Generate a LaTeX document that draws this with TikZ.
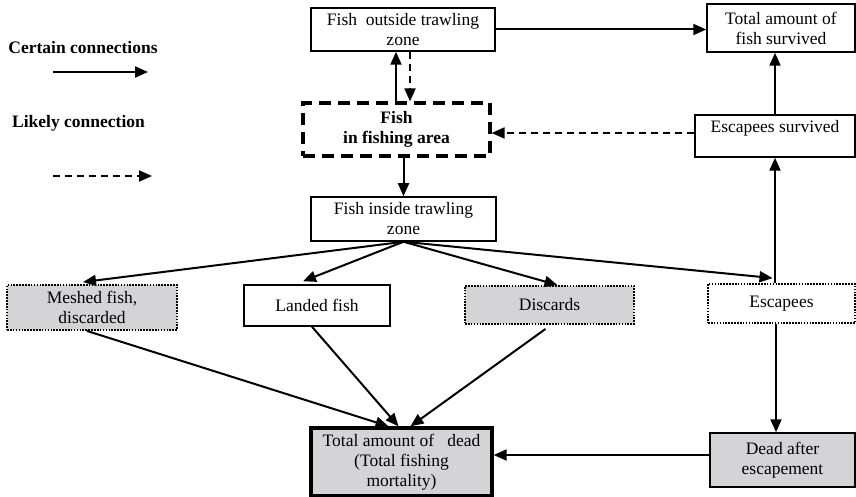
\documentclass[tikz,border=0pt]{standalone}
\usepackage{fontspec}
\setmainfont{Liberation Serif}
\usetikzlibrary{arrows.meta,calc}
\definecolor{boxgray}{RGB}{212,212,214}
\begin{document}
\begin{tikzpicture}[x=1pt,y=-1pt,
  font=\fontsize{17.5}{20}\selectfont,
  box/.style={draw,line width=1.5pt,align=center,inner sep=0pt,
              minimum width=#1},
  grayfill/.style={fill=boxgray},
  dotbox/.style={line width=1.9pt,dash pattern=on 1.6pt off 1.3pt},
  arr/.style={line width=2pt,-{Triangle[length=13pt,width=11pt]}},
  likely/.style={arr,dash pattern=on 7pt off 5pt},
  legendtext/.style={font=\fontsize{17.5}{20}\selectfont\bfseries,inner sep=0pt}]
\useasboundingbox (0,0) rectangle (856,497);

% legend
\node[legendtext] (certain) at (83,48) {Certain connections};
\node[legendtext] (likelytxt) at (78.5,123) {Likely connection};
\coordinate (c1) at (53,72);
\coordinate (c2) at (148,72);
\coordinate (k1) at (53,176);
\coordinate (k2) at (152,176);
\draw[arr] (c1) -- (c2);
\draw[likely] (k1) -- (k2);

% boxes
\node[box=184pt,minimum height=43pt] (outside) at (403,29.5) {Fish\ \ outside trawling\\zone};
\node[box=148pt,minimum height=48pt] (survived) at (781,28) {Total amount of\\fish survived};
\node[box=187pt,minimum height=53pt,line width=3.2pt,dash pattern=on 12pt off 7pt,font=\fontsize{17.5}{20}\selectfont\bfseries] (area) at (396.5,129.5) {Fish\\in fishing area};
\node[box=185pt,minimum height=44pt] (inside) at (403.5,219) {Fish inside trawling\\zone};
\node[box=160pt,minimum height=42pt] (escsurv) at (775,136) {Escapees survived\\\mbox{}};
\node[box=170pt,minimum height=45pt,grayfill,dotbox] (meshed) at (92,307.5) {Meshed fish,\\discarded};
\node[box=146pt,minimum height=41pt] (landed) at (317,305.5) {Landed fish};
\node[box=169pt,minimum height=38pt,grayfill,dotbox] (discards) at (549.5,305) {Discards};
\node[box=147pt,minimum height=39pt,dotbox] (escapees) at (781.5,303.5) {Escapees};
\node[box=181pt,minimum height=68pt,grayfill,line width=3.4pt] (dead) at (401.5,462) {Total amount of\hspace{0.75em}dead\\(Total fishing\\mortality)};
\node[box=145pt,minimum height=54pt,grayfill] (deadafter) at (782.5,460) {Dead after\\escapement};

% connectors
\draw[arr] (outside.east) -- (outside.east -| survived.west);
\draw[arr] ([xshift=-7pt]outside.south |- area.north) -- ([xshift=-7pt]outside.south);
\draw[likely] ([xshift=7pt]outside.south) -- ([xshift=7pt]outside.south |- area.north);
\draw[arr] (inside.north |- area.south) -- (inside.north);
\draw[likely] ([yshift=3pt]escsurv.west) -- ([yshift=3pt]escsurv.west -| area.east);
\draw[arr] (escsurv.north) -- (escsurv.north |- survived.south);
\draw[arr] (escsurv.south |- escapees.north) -- (escsurv.south);

\draw[arr] (inside.south) -- ([xshift=-9pt,yshift=2pt]meshed.north);
\draw[arr] (inside.south) -- ([xshift=-14pt,yshift=3pt]landed.north);
\draw[arr] (inside.south) -- ([xshift=8pt]discards.north);
\draw[arr] (inside.south) -- ([xshift=-9pt,yshift=5pt]escapees.north);

\draw[arr] ([xshift=-5pt]meshed.south) -- ([xshift=-13pt]dead.north);
\draw[arr] ([xshift=-5pt]landed.south) -- ([xshift=-3pt]dead.north);
\draw[arr] ([xshift=-4pt,yshift=-4pt]discards.south) -- ([xshift=9pt]dead.north);
\draw[arr] ([xshift=-5.5pt]escapees.south) -- ([xshift=-5.5pt]escapees.south |- deadafter.north);
\draw[arr] ([yshift=5pt]deadafter.west) -- ([yshift=5pt]deadafter.west -| dead.east);
\end{tikzpicture}
\end{document}
